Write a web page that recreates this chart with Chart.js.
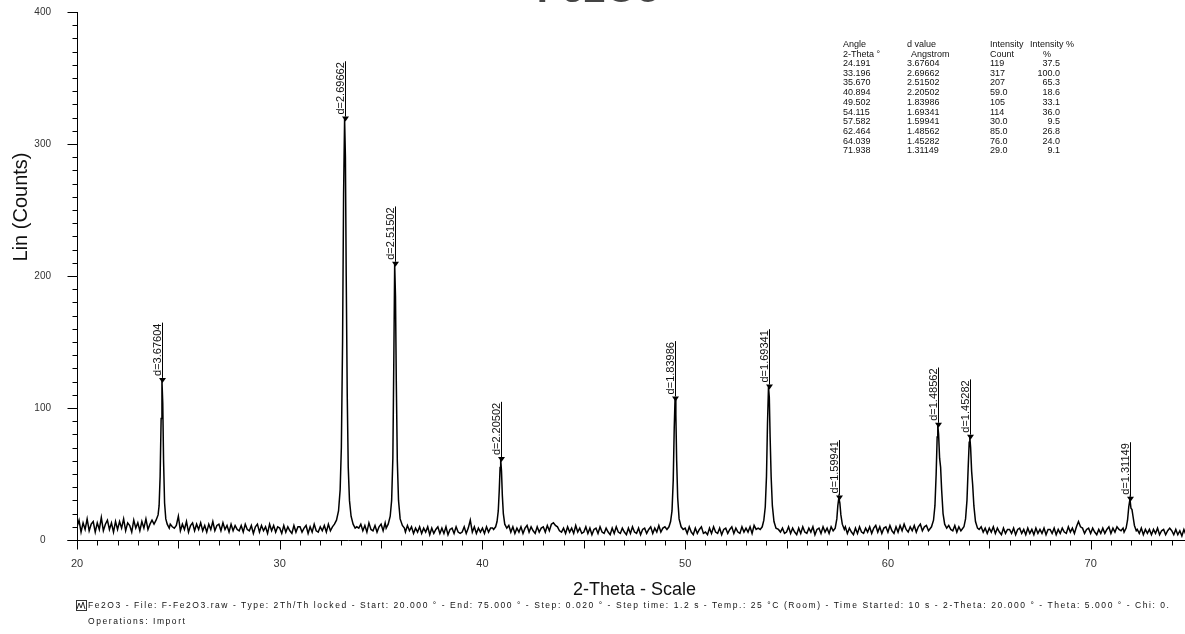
<!DOCTYPE html>
<html>
<head>
<meta charset="utf-8">
<script src="https://cdn.jsdelivr.net/npm/chart.js@4.4.1/dist/chart.umd.min.js"></script>
<style>
  body { margin: 0; width: 1185px; height: 634px; overflow: hidden; background: #fff; position: relative;
         font-family: 'Liberation Sans', Arial, sans-serif; }
  #wrap { position: absolute; left: 0; top: 0; width: 1200px; height: 634px; }
  .cell { position: absolute; font-size: 9px; color: #111; white-space: nowrap; }
  .foot { position: absolute; left: 88px; font-size: 8.5px; letter-spacing: 1.56px; color: #111; white-space: nowrap; }
</style>
</head>
<body>
<div id="wrap"><canvas id="xrdChart"></canvas></div>
<div id="tabla"></div>
<svg style="position:absolute;left:76px;top:600px" width="11" height="11">
  <rect x="0.5" y="0.5" width="10" height="10" fill="none" stroke="#333"/>
  <polyline points="1,9 3,3 5,8 7,2 9,9" fill="none" stroke="#333"/>
</svg>
<div class="foot" style="top:600px">Fe2O3 - File: F-Fe2O3.raw - Type: 2Th/Th locked - Start: 20.000 ° - End: 75.000 ° - Step: 0.020 ° - Step time: 1.2 s - Temp.: 25 °C (Room) - Time Started: 10 s - 2-Theta: 20.000 ° - Theta: 5.000 ° - Chi: 0.</div>
<div class="foot" style="top:616px">Operations: Import</div>
<script>
// barrido: inicio y paso en grados 2-theta
const scanStart = 20.0;
const scanStep = 0.1;

// fondo (cada 0.1 grados, de 20.0 a 75.0)
const backgroundCounts = [
  10,15,6,13,8,16,7,12,14,6,
  13,8,17,7,12,15,8,13,6,14,
  8,14,9,16,7,13,11,6,15,9,
  13,7,14,9,16,8,12,15,12,17,
  13,11,12,10,9,11,12,10,9,11,
  18,7,12,8,14,6,11,13,7,12,
  8,13,7,11,6,12,8,14,7,11,
  12,7,13,8,11,6,12,7,11,8,
  7,11,6,12,8,7,11,5,10,12,
  6,11,7,10,5,12,7,11,6,10,
  9,5,11,6,10,7,5,11,6,10,
  10,6,9,11,5,10,6,12,7,6,
  10,7,11,6,12,7,10,13,11,12,
  11,12,12,11,12,11,10,9,10,9,
  12,7,11,6,13,8,7,11,6,10,
  12,7,13,8,15,17,17,14,12,10,
  10,12,6,11,7,10,5,9,6,10,
  5,9,6,10,4,9,5,8,10,5,
  9,5,10,4,8,9,5,10,6,5,
  6,10,5,9,15,6,10,5,9,6,
  9,5,10,6,9,9,9,9,8,7,
  10,5,9,11,6,10,5,9,6,10,
  5,9,11,6,10,7,5,10,6,9,
  10,6,11,7,12,13,11,10,7,6,
  9,5,10,6,9,5,11,6,9,5,
  6,10,5,9,4,8,9,5,10,6,
  5,9,6,4,9,5,10,6,5,9,
  6,4,9,5,10,6,5,9,4,8,
  9,5,8,10,5,9,6,11,6,9,
  10,6,9,8,8,8,8,8,7,8,
  9,5,10,6,4,9,5,8,10,5,
  6,4,9,5,10,6,5,9,4,8,
  9,5,8,10,5,9,6,5,10,6,
  9,6,10,5,11,8,9,9,9,8,
  8,9,9,9,9,9,8,6,9,5,
  6,10,5,9,6,4,9,5,10,6,
  5,9,6,10,4,8,9,5,10,6,
  9,5,10,6,8,8,8,8,6,10,
  5,9,6,4,9,5,10,6,5,9,
  6,10,5,9,11,6,10,5,9,10,
  6,11,7,5,10,6,11,7,12,8,
  6,10,7,11,6,10,12,7,10,11,
  7,10,11,9,9,9,9,9,9,8,
  11,8,7,11,6,10,7,11,8,7,
  9,9,9,9,9,8,10,6,9,5,
  9,6,10,5,9,6,4,9,5,8,
  8,5,9,4,8,9,5,8,4,9,
  5,8,4,9,5,8,5,9,4,8,
  8,5,9,4,8,5,9,6,5,10,
  6,9,5,10,14,10,9,5,8,9,
  5,9,6,4,8,5,9,5,8,10,
  5,9,6,10,8,7,9,9,9,9,
  9,10,7,8,5,9,4,8,5,8,
  4,8,5,9,4,7,8,4,7,9,
  7,4,8,4,7,3,8,4,7,4,
  6
];

// perfiles de los picos [2-theta, cuentas]
const peakProfiles = [
  [[23.80,12],[23.90,15],[24.00,19],[24.05,26],[24.10,48],[24.15,92],[24.19,121],[24.23,104],[24.27,60],[24.32,28],[24.38,16],[24.45,12],[24.55,9]],
  [[32.70,12],[32.80,15],[32.90,22],[32.98,38],[33.04,70],[33.10,150],[33.15,262],[33.20,319],[33.24,290],[33.28,200],[33.33,110],[33.38,55],[33.44,30],[33.52,18],[33.62,12],[33.72,9]],
  [[35.25,9],[35.35,12],[35.45,18],[35.52,30],[35.58,62],[35.63,140],[35.67,209],[35.71,185],[35.75,120],[35.80,60],[35.86,30],[35.94,16],[36.05,11],[36.15,9]],
  [[40.55,8],[40.65,10],[40.72,14],[40.78,22],[40.83,38],[40.87,55],[40.90,61],[40.94,52],[40.98,34],[41.03,20],[41.10,12],[41.20,9]],
  [[49.10,8],[49.20,10],[49.28,14],[49.35,22],[49.41,45],[49.46,85],[49.50,107],[49.54,95],[49.58,60],[49.63,32],[49.70,16],[49.80,10],[49.90,8]],
  [[53.70,8],[53.80,10],[53.88,15],[53.95,25],[54.01,48],[54.06,88],[54.11,116],[54.15,108],[54.19,78],[54.24,48],[54.30,26],[54.38,14],[54.48,9]],
  [[57.30,7],[57.40,9],[57.48,16],[57.53,26],[57.58,32],[57.63,28],[57.68,19],[57.75,12],[57.85,8]],
  [[62.05,8],[62.15,10],[62.25,15],[62.32,26],[62.38,50],[62.43,78],[62.46,87],[62.50,80],[62.55,62],[62.60,55],[62.65,38],[62.72,20],[62.80,12],[62.90,9]],
  [[63.65,8],[63.75,10],[63.83,16],[63.90,30],[63.96,55],[64.01,74],[64.04,78],[64.08,70],[64.13,52],[64.18,42],[64.24,26],[64.32,14],[64.42,9]],
  [[71.65,6],[71.75,9],[71.82,15],[71.88,25],[71.94,31],[71.99,24],[72.04,23],[72.09,18],[72.16,11],[72.25,7]]
];

// tabla de picos
const peakAngles = [24.191, 33.196, 35.670, 40.894, 49.502, 54.115, 57.582, 62.464, 64.039, 71.938];
const peakDValues = [3.67604, 2.69662, 2.51502, 2.20502, 1.83986, 1.69341, 1.59941, 1.48562, 1.45282, 1.31149];
const peakCounts = [119, 317, 207, 59.0, 105, 114, 30.0, 85.0, 76.0, 29.0];
const peakPercents = [37.5, 100.0, 65.3, 18.6, 33.1, 36.0, 9.5, 26.8, 24.0, 9.1];

const xTickLabels = [20, 30, 40, 50, 60, 70];
const yTickLabels = [0, 100, 200, 300, 400];

const fuente = "'Liberation Sans', Arial, sans-serif";

// juntar fondo y picos
const puntos = [];
backgroundCounts.forEach((c, i) => {
    const a = +(scanStart + i * scanStep).toFixed(2);
    const enPico = peakProfiles.some(p => a >= p[0][0] && a <= p[p.length - 1][0]);
    if (!enPico) puntos.push({ x: a, y: c });
});
peakProfiles.forEach(p => p.forEach(([a, c]) => puntos.push({ x: a, y: c })));
puntos.sort((p, q) => p.x - q.x);

// tabla arriba a la derecha
const colX = [843, 907, 990, 1030];
const tabla = document.getElementById('tabla');
function celda(txt, left, top, extra) {
    const d = document.createElement('div');
    d.className = 'cell';
    d.textContent = txt;
    d.style.left = left + 'px';
    d.style.top = top + 'px';
    if (extra) Object.assign(d.style, extra);
    tabla.appendChild(d);
}
celda('Angle', colX[0], 39); celda('d value', colX[1], 39); celda('Intensity', colX[2], 39); celda('Intensity %', colX[3], 39);
celda('2-Theta °', colX[0], 48.5); celda('Angstrom', colX[1] + 4, 48.5); celda('Count', colX[2], 48.5); celda('%', colX[3] + 13, 48.5);
peakAngles.forEach((a, i) => {
    const top = 58 + i * 9.7;
    celda(a.toFixed(3), colX[0], top);
    celda(peakDValues[i].toFixed(5), colX[1], top);
    celda(peakCounts[i].toPrecision(3), colX[2], top);
    celda(peakPercents[i].toFixed(1), colX[3], top, { width: '30px', textAlign: 'right' });
});

const decoracion = {
    id: 'decoracion',
    afterDatasetsDraw(chart) {
        const { ctx, scales: { x, y } } = chart;
        const x0 = Math.round(x.getPixelForValue(20)) + 0.5;
        const y0 = Math.round(y.getPixelForValue(0)) + 0.5;
        ctx.save();
        ctx.strokeStyle = '#000';
        ctx.fillStyle = '#000';
        ctx.lineWidth = 1;

        // ejes y marcas
        ctx.beginPath();
        ctx.moveTo(x0 - 10, y0); ctx.lineTo(x.right, y0);
        ctx.moveTo(x0, y0); ctx.lineTo(x0, y.getPixelForValue(400));
        for (let v = 20; v <= 75; v++) {
            const px = Math.round(x.getPixelForValue(v)) + 0.5;
            const len = v % 10 === 0 ? 9 : (v % 5 === 0 ? 8 : 5);
            ctx.moveTo(px, y0); ctx.lineTo(px, y0 + len);
        }
        for (let v = 0; v <= 400; v += 10) {
            const py = Math.round(y.getPixelForValue(v)) + 0.5;
            const len = v % 100 === 0 ? 10 : 5;
            ctx.moveTo(x0, py); ctx.lineTo(x0 - len, py);
        }
        ctx.stroke();

        // marcas de los picos
        ctx.font = '11px ' + fuente;
        ctx.textBaseline = 'alphabetic';
        peakAngles.forEach((a, i) => {
            const px = Math.round(x.getPixelForValue(a)) + 0.5;
            const py = y.getPixelForValue(peakCounts[i]);
            const txt = 'd=' + peakDValues[i].toFixed(5);
            const w = ctx.measureText(txt).width;
            const inicio = py - 7;
            ctx.beginPath();
            ctx.moveTo(px, py - 5);
            ctx.lineTo(px, inicio - w - 1);
            ctx.stroke();
            ctx.beginPath();
            ctx.moveTo(px - 3.5, py - 5);
            ctx.lineTo(px + 3.5, py - 5);
            ctx.lineTo(px, py);
            ctx.closePath();
            ctx.fill();
            ctx.save();
            ctx.translate(px - 2, inicio);
            ctx.rotate(-Math.PI / 2);
            ctx.fillStyle = '#111';
            ctx.fillText(txt, 0, 0);
            ctx.restore();
        });

        // titulos
        ctx.fillStyle = '#111';
        ctx.textAlign = 'center';
        ctx.font = '18px ' + fuente;
        ctx.fillText('2-Theta - Scale', (x.left + x.right) / 2, 595);
        ctx.save();
        ctx.translate(27, 207);
        ctx.rotate(-Math.PI / 2);
        ctx.font = '20px ' + fuente;
        ctx.fillText('Lin (Counts)', 0, 0);
        ctx.restore();
        // el titulo queda casi fuera de la imagen, solo se ve el borde inferior
        ctx.fillStyle = '#444';
        ctx.font = 'bold 40px ' + fuente;
        ctx.fillText('Fe2O3', 598, 2);
        ctx.restore();
    }
};

const ctx = document.getElementById('xrdChart').getContext('2d');
new Chart(ctx, {
    type: 'line',
    data: {
        datasets: [{
            data: puntos,
            borderColor: '#000',
            borderWidth: 1.5,
            pointRadius: 0,
            tension: 0,
            fill: false
        }]
    },
    options: {
        animation: false,
        responsive: true,
        maintainAspectRatio: false,
        layout: { autoPadding: false, padding: { left: 0, right: 8, top: 12, bottom: 54 } },
        plugins: { legend: { display: false }, tooltip: { enabled: false } },
        scales: {
            x: {
                type: 'linear',
                min: 20,
                max: 75,
                grid: { display: false, drawTicks: false },
                border: { display: false },
                afterBuildTicks: s => { s.ticks = xTickLabels.map(v => ({ value: v })); },
                afterFit: s => { s.height = 40; },
                ticks: { padding: 17, maxRotation: 0, autoSkip: false, color: '#333', font: { family: fuente, size: 11 } }
            },
            y: {
                min: 0,
                max: 400,
                grid: { display: false, drawTicks: false },
                border: { display: false },
                afterBuildTicks: s => { s.ticks = yTickLabels.map(v => ({ value: v })); },
                // sin relleno extra arriba/abajo para que el eje llegue a y=12
                afterFit: s => { s.width = 77; s.paddingTop = 0; s.paddingBottom = 0; },
                ticks: { crossAlign: 'center', padding: 26, color: '#333', font: { family: fuente, size: 10 } }
            }
        }
    },
    plugins: [decoracion]
});
</script>
</body>
</html>
